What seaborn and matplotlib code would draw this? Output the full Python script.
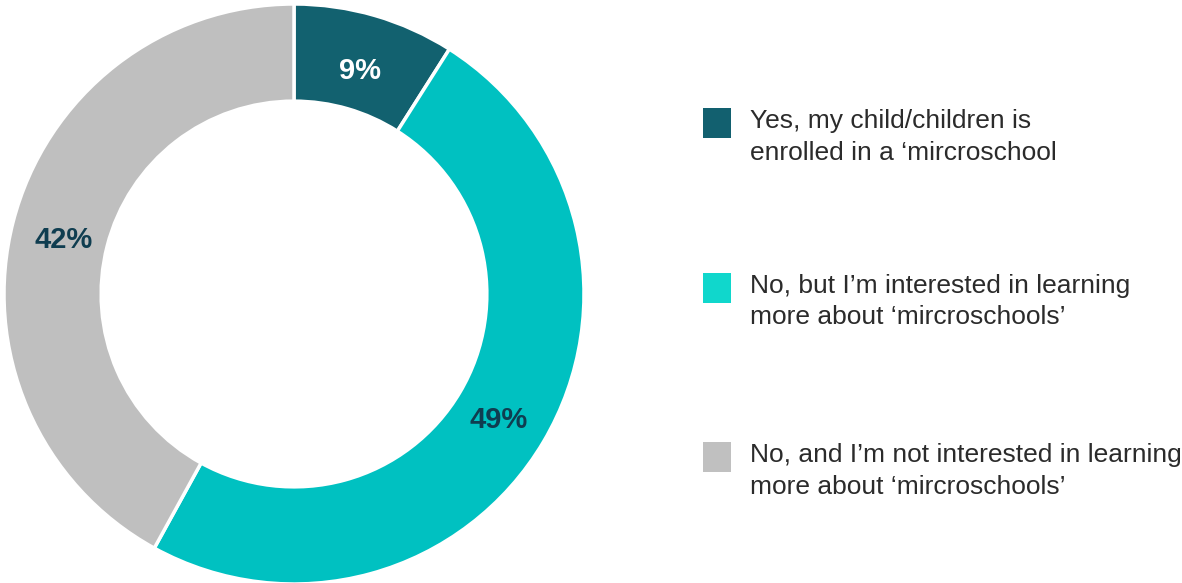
import matplotlib
matplotlib.use("Agg")
import matplotlib.pyplot as plt
from matplotlib.patches import Rectangle
import seaborn as sns

# Survey answers and their shares (%)
categories = [
    "Yes, my child/children is\nenrolled in a \u2018mircroschool",
    "No, but I\u2019m interested in learning\nmore about \u2018mircroschools\u2019",
    "No, and I\u2019m not interested in learning\nmore about \u2018mircroschools\u2019",
]
shares = [9, 49, 42]
wedge_colors = ["#12616F", "#00C1C1", "#BFBFBF"]
key_colors = ["#12606F", "#10D7CC", "#C0C0C0"]
pct_colors = ["white", "#0F3D50", "#0F3D50"]

sns.set_theme(style="white")
plt.rcParams["font.family"] = ["Liberation Sans", "DejaVu Sans"]

W, H = 1182, 583
fig = plt.figure(figsize=(W / 100, H / 100), dpi=100)

# Donut chart
ax = fig.add_axes([4 / W, -1 / H, 580 / W, 580 / H])
wedges, _, autotexts = ax.pie(
    shares,
    colors=wedge_colors,
    startangle=90,
    counterclock=False,
    radius=1.0,
    autopct=lambda p: f"{p:.0f}%",
    pctdistance=0.82,
    wedgeprops=dict(width=0.335, edgecolor="white", linewidth=2.5),
    textprops=dict(fontsize=21, fontweight="bold"),
)
for t, c in zip(autotexts, pct_colors):
    t.set_color(c)
    x, y = t.get_position()
    t.set_position((x, y - 0.017))
ax.set_xlim(-1, 1)
ax.set_ylim(-1, 1)
ax.set_aspect("equal")
ax.axis("off")

# Legend drawn in pixel coordinates
lax = fig.add_axes([0, 0, 1, 1])
lax.set_xlim(0, W)
lax.set_ylim(H, 0)
lax.axis("off")
box_tops = [108, 273, 442]
for label, color, top in zip(categories, key_colors, box_tops):
    lax.add_patch(Rectangle((703, top), 28, 30, facecolor=color, edgecolor="none"))
    for i, line in enumerate(label.split("\n")):
        lax.text(750, top + 20 + i * 31.5, line, fontsize=19, color="#2B2B2B",
                 va="baseline", ha="left")

fig.savefig("out.png", dpi=100, facecolor="white")
